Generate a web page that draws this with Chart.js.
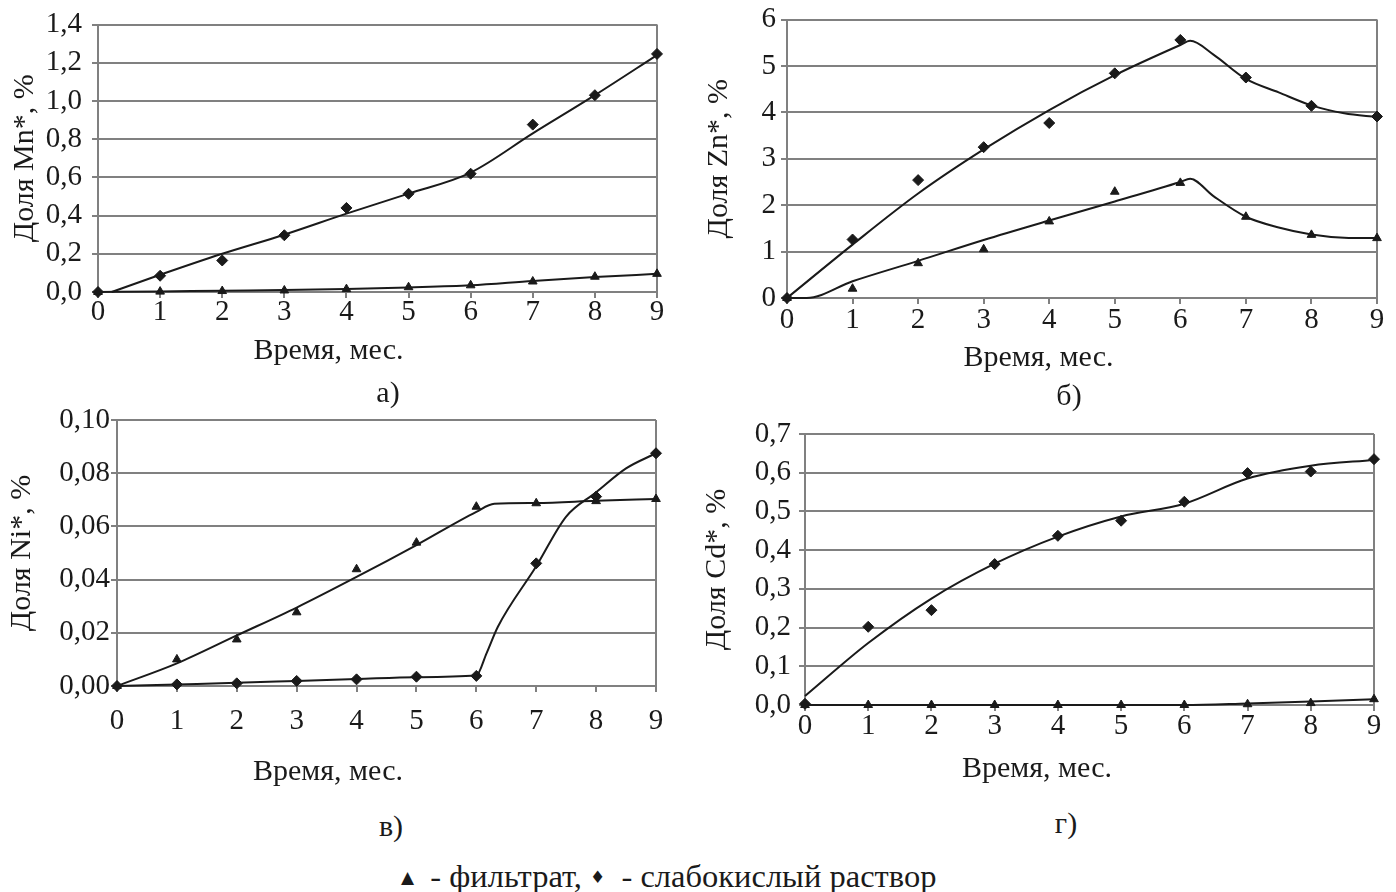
<!DOCTYPE html>
<html lang="ru">
<head>
<meta charset="UTF-8" />
<title>Доля металлов по времени</title>
<script src="https://cdn.jsdelivr.net/npm/chart.js"></script>
<style>
  body { margin: 0; background: #fff; width: 1396px; height: 892px; overflow: hidden; position: relative; font-family: "Liberation Serif", serif; color: #1a1a1a; }
  canvas { position: absolute; }
  .caption { position: absolute; font-size: 30px; line-height: 1; transform: translate(-50%, -50%); white-space: nowrap; }
  .legend { position: absolute; left: 401px; top: 876px; font-size: 32.5px; line-height: 1; transform: translateY(-50%); white-space: pre; }
  .legend .sym { font-family: "DejaVu Sans", sans-serif; font-size: 17px; vertical-align: 4px; }
</style>
</head>
<body>
  <canvas id="mnChart" width="704" height="366" style="left:0;top:0"></canvas>
  <canvas id="znChart" width="712" height="373" style="left:700px;top:0"></canvas>
  <canvas id="niChart" width="728" height="387" style="left:0;top:400px"></canvas>
  <canvas id="cdChart" width="736" height="384" style="left:700px;top:400px"></canvas>

  <div class="caption" style="left:388px;top:392px">а)</div>
  <div class="caption" style="left:1069px;top:395px">б)</div>
  <div class="caption" style="left:391px;top:826px">в)</div>
  <div class="caption" style="left:1066px;top:823px">г)</div>
  <div class="legend"><span class="sym">▲</span>  - фильтрат, <span class="sym">♦</span>  - слабокислый раствор</div>

  <script>
    const FONT = '"Liberation Serif", "Times New Roman", serif';
    const GRID = '#808080';
    const INK = '#1a1a1a';

    const months = [0, 1, 2, 3, 4, 5, 6, 7, 8, 9];

    // а) Mn
    const mnAcid = [0, 0.085, 0.165, 0.297, 0.44, 0.514, 0.619, 0.876, 1.03, 1.246];
    const mnFiltrate = [0, 0.002, 0.005, 0.008, 0.015, 0.025, 0.035, 0.055, 0.08, 0.095];
    const mnAcidCurveX = [0.22, 1, 2, 3, 4, 5, 6, 7, 8, 9];
    const mnAcidCurveY = [0, 0.09, 0.2, 0.3, 0.41, 0.515, 0.625, 0.83, 1.03, 1.24];
    const mnFiltCurveX = [0, 1, 2, 3, 4, 5, 6, 7, 8, 9];
    const mnFiltCurveY = [0, 0.003, 0.007, 0.01, 0.016, 0.024, 0.035, 0.058, 0.078, 0.095];
    const mnTicks = ['0,0', '0,2', '0,4', '0,6', '0,8', '1,0', '1,2', '1,4'];

    // б) Zn
    const znAcid = [0, 1.26, 2.54, 3.25, 3.77, 4.84, 5.56, 4.75, 4.14, 3.91];
    const znFiltrate = [0, 0.2, 0.75, 1.05, 1.65, 2.29, 2.48, 1.75, 1.36, 1.29];
    const znAcidCurveX = [0, 1, 2, 3, 4, 5, 6, 6.15, 6.5, 7, 7.5, 8, 8.5, 9];
    const znAcidCurveY = [0, 1.15, 2.25, 3.2, 4.05, 4.8, 5.45, 5.54, 5.25, 4.72, 4.43, 4.15, 3.98, 3.9];
    const znFiltCurveX = [0, 0.3, 1, 2, 3, 4, 5, 6, 6.15, 6.5, 7, 7.5, 8, 8.5, 9];
    const znFiltCurveY = [0, 0, 0.36, 0.8, 1.25, 1.67, 2.08, 2.5, 2.57, 2.2, 1.75, 1.52, 1.37, 1.3, 1.29];
    const znTicks = ['0', '1', '2', '3', '4', '5', '6'];

    // в) Ni
    const niAcid = [0, 0.0006, 0.001, 0.0019, 0.0025, 0.0035, 0.0038, 0.0461, 0.0712, 0.0875];
    const niFiltrate = [0, 0.01, 0.0175, 0.0277, 0.0439, 0.0539, 0.0674, 0.0687, 0.0695, 0.0703];
    const niAcidCurveX = [0, 1, 2, 3, 4, 5, 6, 6.17, 6.36, 7, 7.5, 8, 8.5, 9];
    const niAcidCurveY = [0, 0.0006, 0.0012, 0.0019, 0.0026, 0.0033, 0.004, 0.0123, 0.0223, 0.045, 0.0637, 0.0728, 0.0818, 0.0875];
    const niFiltCurveX = [0, 1, 2, 3, 4, 5, 6, 6.3, 7, 8, 9];
    const niFiltCurveY = [0, 0.0085, 0.019, 0.0295, 0.041, 0.053, 0.0655, 0.0685, 0.0688, 0.0696, 0.0703];
    const niTicks = ['0,00', '0,02', '0,04', '0,06', '0,08', '0,10'];

    // г) Cd
    const cdAcid = [0.003, 0.202, 0.245, 0.364, 0.437, 0.476, 0.525, 0.599, 0.603, 0.635];
    const cdFiltrate = [0, 0, 0, 0, 0, 0, 0, 0.002, 0.005, 0.015];
    const cdAcidCurveX = [0, 1, 2, 3, 4, 5, 6, 7, 8, 9];
    const cdAcidCurveY = [0.023, 0.16, 0.275, 0.365, 0.435, 0.487, 0.52, 0.585, 0.618, 0.633];
    const cdFiltCurveX = [0, 6, 7, 8, 9];
    const cdFiltCurveY = [0, 0, 0.004, 0.009, 0.015];
    const cdTicks = ['0,0', '0,1', '0,2', '0,3', '0,4', '0,5', '0,6', '0,7'];

    const xTicks = ['0', '1', '2', '3', '4', '5', '6', '7', '8', '9'];

    function pts(xs, ys) {
      return xs.map((x, i) => ({ x: x, y: ys[i] }));
    }

    function makeChart(id, o) {
      const curve = (xs, ys) => ({
        data: pts(xs, ys), borderColor: INK, borderWidth: 2, pointRadius: 0,
        cubicInterpolationMode: 'monotone', clip: false
      });
      const marks = (ys, style, r) => ({
        data: pts(months, ys), showLine: false, pointStyle: style, pointRadius: r,
        backgroundColor: INK, borderColor: INK, borderWidth: 1, clip: false
      });

      new Chart(document.getElementById(id), {
        type: 'line',
        data: {
          datasets: [
            curve(o.acidCurveX, o.acidCurveY),
            curve(o.filtCurveX, o.filtCurveY),
            marks(o.acid, 'rectRot', 5.5),
            marks(o.filtrate, 'triangle', 5)
          ]
        },
        options: {
          responsive: false,
          animation: false,
          layout: { padding: { top: o.padTop, right: o.padRight, left: 0, bottom: 0 } },
          plugins: {
            legend: { display: false },
            tooltip: { enabled: false },
            title: {
              display: true, position: 'bottom', text: 'Время, мес.', color: INK, padding: 0,
              font: { family: FONT, size: 30, weight: 'normal', lineHeight: 1 }
            }
          },
          scales: {
            x: {
              type: 'linear', min: 0, max: 9,
              afterFit: s => { s.height = o.xAxisH; },
              ticks: {
                stepSize: 1, padding: o.xPad, color: INK, maxRotation: 0, autoSkip: false,
                callback: (v, i) => xTicks[i],
                font: { family: FONT, size: 29, lineHeight: 1 }
              },
              grid: {
                color: c => (c.tick && c.tick.value === 9) ? GRID : 'rgba(0,0,0,0)',
                tickColor: GRID, tickLength: 6, lineWidth: 2
              },
              border: { color: GRID, width: 2 }
            },
            y: {
              min: 0, max: o.yMax,
              afterFit: s => { s.width = o.yAxisW; },
              ticks: {
                stepSize: o.yStep, padding: o.yPad, color: INK,
                callback: (v, i) => o.yTicks[i],
                font: { family: FONT, size: 29, lineHeight: 1 }
              },
              grid: { color: GRID, lineWidth: 2, tickLength: 6 },
              border: { color: GRID, width: 2 },
              title: {
                display: true, text: o.yTitle, color: INK,
                padding: { top: o.yTitlePad, bottom: 0 },
                font: { family: FONT, size: 30, lineHeight: 1 }
              }
            }
          }
        }
      });
    }

    makeChart('mnChart', {
      acid: mnAcid, filtrate: mnFiltrate,
      acidCurveX: mnAcidCurveX, acidCurveY: mnAcidCurveY,
      filtCurveX: mnFiltCurveX, filtCurveY: mnFiltCurveY,
      yMax: 1.4, yStep: 0.2, yTicks: mnTicks, yTitle: 'Доля Mn*, %',
      padTop: 20, padRight: 47, xAxisH: 44, yAxisW: 98,
      xPad: 0, yPad: 10, yTitlePad: 10
    });

    makeChart('znChart', {
      acid: znAcid, filtrate: znFiltrate,
      acidCurveX: znAcidCurveX, acidCurveY: znAcidCurveY,
      filtCurveX: znFiltCurveX, filtCurveY: znFiltCurveY,
      yMax: 6, yStep: 1, yTicks: znTicks, yTitle: 'Доля Zn*, %',
      padTop: 18, padRight: 35, xAxisH: 45, yAxisW: 87,
      xPad: 2, yPad: 5, yTitlePad: 4
    });

    makeChart('niChart', {
      acid: niAcid, filtrate: niFiltrate,
      acidCurveX: niAcidCurveX, acidCurveY: niAcidCurveY,
      filtCurveX: niFiltCurveX, filtCurveY: niFiltCurveY,
      yMax: 0.1, yStep: 0.02, yTicks: niTicks, yTitle: 'Доля Ni*, %',
      padTop: 20, padRight: 72, xAxisH: 71, yAxisW: 117,
      xPad: 15, yPad: 1, yTitlePad: 7
    });

    makeChart('cdChart', {
      acid: cdAcid, filtrate: cdFiltrate,
      acidCurveX: cdAcidCurveX, acidCurveY: cdAcidCurveY,
      filtCurveX: cdFiltCurveX, filtCurveY: cdFiltCurveY,
      yMax: 0.7, yStep: 0.1, yTicks: cdTicks, yTitle: 'Доля Cd*, %',
      padTop: 34, padRight: 62, xAxisH: 49, yAxisW: 105,
      xPad: 1, yPad: 8, yTitlePad: 2
    });
  </script>
</body>
</html>
